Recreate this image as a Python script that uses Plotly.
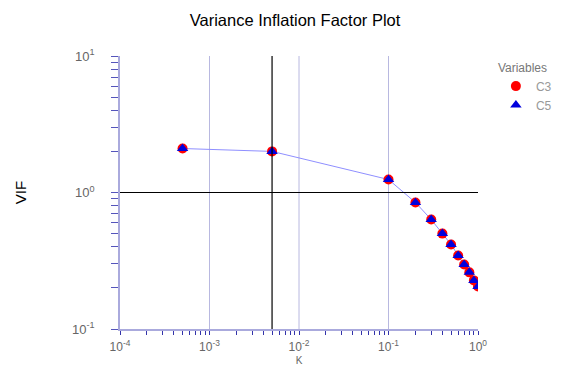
import plotly.graph_objects as go

k_values = [0.0005, 0.005, 0.1, 0.2, 0.3, 0.4, 0.5, 0.6, 0.7, 0.8, 0.9, 1.0]
vif_c3 = [2.10, 2.00, 1.245, 0.845, 0.634, 0.50, 0.416, 0.346, 0.297, 0.26, 0.227, 0.205]
vif_c5 = [2.10, 2.00, 1.245, 0.845, 0.634, 0.50, 0.416, 0.346, 0.297, 0.26, 0.227, 0.205]
chosen_k = 0.005
x_decades = [-4, -3, -2, -1, 0]
x_decade_labels = ["10<sup>-4</sup>", "10<sup>-3</sup>", "10<sup>-2</sup>", "10<sup>-1</sup>", "10<sup>0</sup>"]
y_decades = [-1, 0, 1]
y_decade_labels = ["10<sup>-1</sup>", "10<sup>0</sup>", "10<sup>1</sup>"]
grid_k = [1e-3, 1e-2, 1e-1]


def log_ticks(decades, labels):
    vals, texts = [], []
    for i, d in enumerate(decades):
        vals.append(10.0 ** d)
        texts.append(labels[i])
        if i < len(decades) - 1:
            for m in range(2, 10):
                vals.append(m * 10.0 ** d)
                texts.append("")
    return vals, texts


xt_vals, xt_text = log_ticks(x_decades, x_decade_labels)
yt_vals, yt_text = log_ticks(y_decades, y_decade_labels)

font = "Liberation Sans, Arial, sans-serif"
fig = go.Figure()
fig.add_trace(go.Scatter(x=k_values, y=vif_c5, mode="lines", line=dict(color="#8f8fff", width=1),
                         showlegend=False, hoverinfo="skip"))
fig.add_trace(go.Scatter(x=k_values, y=vif_c3, mode="markers", name="C3",
                         marker=dict(symbol="circle", size=10, color="red")))
fig.add_trace(go.Scatter(x=k_values, y=vif_c5, mode="markers", name="C5",
                         marker=dict(symbol="triangle-up", size=10, color="#0000dd")))

for g in grid_k:
    fig.add_shape(type="line", xref="x", yref="paper", x0=g, x1=g, y0=0, y1=1,
                  line=dict(color="#b8b8e0", width=1), layer="below")
fig.add_shape(type="line", xref="x", yref="paper", x0=chosen_k, x1=chosen_k, y0=0, y1=1,
              line=dict(color="black", width=1.2))
fig.add_shape(type="line", xref="paper", yref="y", x0=0, x1=1, y0=1, y1=1,
              line=dict(color="black", width=1.2))

fig.update_layout(
    width=562, height=366,
    margin=dict(l=120, r=84, t=56, b=37, autoexpand=False),
    paper_bgcolor="white", plot_bgcolor="white",
    font=dict(family=font, color="#666666", size=13),
    title=dict(text="Variance Inflation Factor Plot", x=0.525, xanchor="center", y=0.96,
               font=dict(family=font, size=16.5, color="black")),
    xaxis=dict(type="log", range=[-4, 0], tickvals=xt_vals, ticktext=xt_text, tickangle=0,
               showgrid=False, showline=True, linecolor="#aaaadd", linewidth=1.5,
               ticks="outside", ticklen=4, tickcolor="#3333aa", ticklabelstandoff=2,
               tickfont=dict(size=12),
               zeroline=False, automargin=False,
               title=dict(text="K", font=dict(size=10, color="#666666"), standoff=13)),
    yaxis=dict(type="log", range=[-1, 1], tickvals=yt_vals, ticktext=yt_text,
               showgrid=False, showline=True, linecolor="#aaaadd", linewidth=1.5,
               ticks="outside", ticklen=7, tickcolor="#5555bb",
               zeroline=False, ticklabelstandoff=14, automargin=False,
               title=dict(text="VIF", font=dict(size=15, color="black"), standoff=42)),
    legend=dict(x=1.05, y=1.0, xanchor="left", yanchor="top",
                title=dict(text="Variables", font=dict(color="#777777", size=12)),
                font=dict(color="#999999", size=12), bgcolor="rgba(0,0,0,0)",
                itemwidth=30, tracegroupgap=0),
)

fig.write_html("out.html")
